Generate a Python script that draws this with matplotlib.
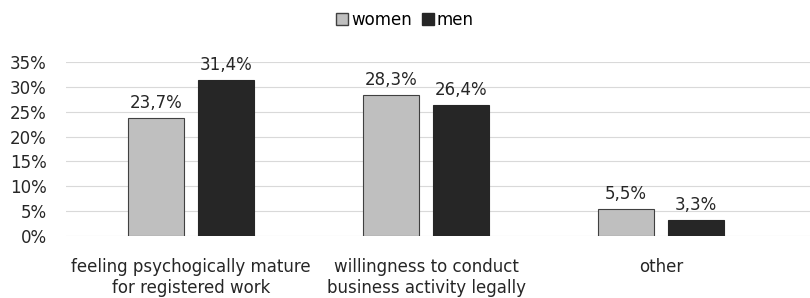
import matplotlib.pyplot as plt
import numpy as np
from matplotlib.patches import Patch

categories = ["feeling psychogically mature\nfor registered work",
              "willingness to conduct\nbusiness activity legally",
              "other"]
women = [23.7, 28.3, 5.5]
men = [31.4, 26.4, 3.3]
yticks = [0, 5, 10, 15, 20, 25, 30, 35]

plt.rcParams["font.family"] = ["Liberation Sans Narrow", "DejaVu Sans"]
plt.rcParams["font.size"] = 12

fig = plt.figure(figsize=(8.1, 2.98), dpi=100)
ax = fig.add_axes([66 / 810, 1 - 236 / 298, 1 - 66 / 810, (236 - 62) / 298])

x = np.arange(len(categories))
w = 0.24
off = 0.15
b1 = ax.bar(x - off, women, w, color="#bfbfbf", edgecolor="#404040", linewidth=0.8, zorder=3)
b2 = ax.bar(x + off, men, w, color="#262626", edgecolor="#262626", linewidth=0.8, zorder=3)

for bars, vals in ((b1, women), (b2, men)):
    for rect, v in zip(bars, vals):
        ax.text(rect.get_x() + rect.get_width() / 2, v + 1.2, f"{v:.1f}%".replace(".", ","),
                ha="center", va="bottom", fontsize=12, color="#262626")

ax.set_xlim(-0.532, 2.634)
ax.set_ylim(0, 35)
ax.set_yticks(yticks)
ax.set_yticklabels([f"{t}%" for t in yticks])
ax.set_xticks(x)
ax.set_xticklabels(categories)
ax.yaxis.grid(True, color="#d9d9d9", linewidth=0.8, zorder=0)
for s in ax.spines.values():
    s.set_visible(False)
ax.tick_params(length=0, colors="#262626", labelsize=12)
ax.tick_params(axis="x", pad=16)
ax.tick_params(axis="y", pad=14)

handles = [Patch(facecolor="#bfbfbf", edgecolor="#404040", label="women"),
           Patch(facecolor="#262626", edgecolor="#262626", label="men")]
fig.legend(handles=handles, loc="center", bbox_to_anchor=(0.5, 1 - 20 / 298), ncol=2,
           frameon=False, handlelength=0.7, handleheight=0.7, handletextpad=0.2,
           columnspacing=0.6, fontsize=12)

fig.savefig("out.png", dpi=100)
